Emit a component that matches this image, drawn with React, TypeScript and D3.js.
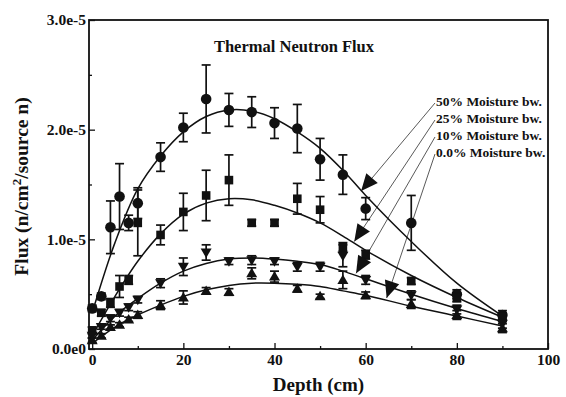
import React, { useEffect, useRef } from 'react'
import * as d3 from 'd3'

// depth (cm) of measured points
const depths = [0, 2, 4, 6, 8, 10, 15, 20, 25, 30, 35, 40, 45, 50, 55, 60, 70, 80, 90]

// flux in units of 1e-5 n/cm2/source n
const m50 = [0.37, 0.48, 1.11, 1.39, 1.15, 1.33, 1.75, 2.02, 2.28, 2.18, 2.16, 2.06, 2.01, 1.73, 1.59, 1.28, 1.15, 0.5, 0.31]
const e50 = [0.03, 0.03, 0.24, 0.3, 0.07, 0.14, 0.13, 0.13, 0.31, 0.15, 0.14, 0.14, 0.22, 0.19, 0.18, 0.1, 0.25, 0.04, 0.04]
const m25 = [0.17, 0.33, 0.42, 0.57, 0.63, 1.15, 1.04, 1.25, 1.4, 1.54, 1.15, 1.15, 1.37, 1.27, 0.93, 0.86, 0.62, 0.47, 0.29]
const e25 = [0.03, 0.03, 0.04, 0.1, 0.04, 0.3, 0.09, 0.17, 0.23, 0.23, 0.03, 0.03, 0.14, 0.12, 0.04, 0.04, 0.03, 0.04, 0.04]
const m10 = [0.12, 0.2, 0.28, 0.33, 0.38, 0.45, 0.6, 0.75, 0.88, 0.8, 0.81, 0.8, 0.75, 0.75, 0.85, 0.63, 0.49, 0.36, 0.23]
const e10 = [0.02, 0.02, 0.03, 0.03, 0.03, 0.03, 0.04, 0.08, 0.07, 0.03, 0.04, 0.03, 0.04, 0.04, 0.1, 0.04, 0.04, 0.04, 0.04]
const m0 = [0.08, 0.12, 0.2, 0.22, 0.27, 0.31, 0.4, 0.47, 0.53, 0.52, 0.69, 0.66, 0.55, 0.48, 0.63, 0.49, 0.41, 0.31, 0.19]
const e0 = [0.02, 0.02, 0.02, 0.02, 0.02, 0.03, 0.04, 0.06, 0.03, 0.03, 0.05, 0.05, 0.03, 0.02, 0.08, 0.03, 0.04, 0.04, 0.04]

// fitted curves
const fitDepths = [0, 5, 10, 15, 20, 25, 30, 35, 40, 45, 50, 55, 60, 70, 80, 90]
const fit50 = [0.33, 0.97, 1.46, 1.76, 1.98, 2.12, 2.18, 2.17, 2.1, 1.98, 1.83, 1.63, 1.4, 0.98, 0.6, 0.3]
const fit25 = [0.12, 0.48, 0.8, 1.05, 1.23, 1.33, 1.37, 1.36, 1.31, 1.24, 1.15, 1.03, 0.9, 0.67, 0.47, 0.29]
const fit10 = [0.08, 0.3, 0.46, 0.6, 0.71, 0.78, 0.82, 0.83, 0.82, 0.8, 0.77, 0.71, 0.64, 0.5, 0.37, 0.25]
const fit0 = [0.05, 0.2, 0.31, 0.4, 0.48, 0.54, 0.58, 0.6, 0.6, 0.59, 0.57, 0.53, 0.49, 0.39, 0.3, 0.21]

const seriesLabels = ['50% Moisture bw.', '25% Moisture bw.', '10% Moisture bw.', '0.0% Moisture bw.']
const markers = ['circle', 'square', 'down', 'up']
// arrow tips on the curves [depth, flux]
const arrowTips = [[59, 1.44], [57.5, 0.98], [57.9, 0.69], [64.6, 0.465]]

const xTicks = [0, 20, 40, 60, 80, 100]
const xMinor = [10, 30, 50, 70, 90]
const yTicks = [0, 1, 2, 3]
const yTickLabels = ['0.0e0', '1.0e-5', '2.0e-5', '3.0e-5']
const yMinor = [0.5, 1.5, 2.5]

const W = 566
const H = 397
const FONT = '"Liberation Serif", "Times New Roman", serif'

const App = () => {
  const ref = useRef(null)

  useEffect(() => {
    const svg = d3.select(ref.current)
    svg.selectAll('*').remove()

    const left = 89
    const right = 548
    const top = 20
    const bottom = 349

    const x = d3.scaleLinear().domain([-0.7, 100]).range([left, right])
    const y = d3.scaleLinear().domain([0, 3]).range([bottom, top])

    const g = svg.append('g').attr('font-family', FONT)

    // frame
    g.append('rect')
      .attr('x', left)
      .attr('y', top)
      .attr('width', right - left)
      .attr('height', bottom - top)
      .attr('fill', 'none')
      .attr('stroke', '#111')
      .attr('stroke-width', 1.8)

    // x axis
    const xa = g.append('g')
      .attr('transform', `translate(0,${bottom})`)
      .call(d3.axisBottom(x).tickValues(xTicks).tickSize(-6).tickPadding(5))
    xa.select('.domain').remove()
    xa.selectAll('line').attr('stroke', '#111').attr('stroke-width', 1.3)
    xa.selectAll('text')
      .attr('font-family', FONT)
      .attr('font-weight', 'bold')
      .attr('font-size', 15.5)
      .attr('fill', '#111')
    const xm = g.append('g')
      .attr('transform', `translate(0,${bottom})`)
      .call(d3.axisBottom(x).tickValues(xMinor).tickSize(-3).tickFormat(() => ''))
    xm.select('.domain').remove()
    xm.selectAll('line').attr('stroke', '#111').attr('stroke-width', 1.3)

    // y axis
    const ya = g.append('g')
      .attr('transform', `translate(${left},0)`)
      .call(d3.axisLeft(y).tickValues(yTicks).tickSize(-6).tickPadding(3).tickFormat((d, i) => yTickLabels[i]))
    ya.select('.domain').remove()
    ya.selectAll('line').attr('stroke', '#111').attr('stroke-width', 1.3)
    ya.selectAll('text')
      .attr('font-family', FONT)
      .attr('font-weight', 'bold')
      .attr('font-size', 15.5)
      .attr('fill', '#111')
    const ym = g.append('g')
      .attr('transform', `translate(${left},0)`)
      .call(d3.axisLeft(y).tickValues(yMinor).tickSize(-3).tickFormat(() => ''))
    ym.select('.domain').remove()
    ym.selectAll('line').attr('stroke', '#111').attr('stroke-width', 1.3)

    // axis titles
    g.append('text')
      .attr('x', (left + right) / 2)
      .attr('y', 391)
      .attr('text-anchor', 'middle')
      .attr('font-weight', 'bold')
      .attr('font-size', 19)
      .attr('fill', '#111')
      .text('Depth (cm)')

    const yt = g.append('text')
      .attr('transform', `translate(28,${(top + bottom) / 2 + 2}) rotate(-90)`)
      .attr('text-anchor', 'middle')
      .attr('font-weight', 'bold')
      .attr('font-size', 19.5)
      .attr('fill', '#111')
    yt.append('tspan').text('Flux (n/cm')
    yt.append('tspan').attr('dy', -7).attr('font-size', 13).text('2')
    yt.append('tspan').attr('dy', 7).text('/source n)')

    // title
    g.append('text')
      .attr('x', 294)
      .attr('y', 52)
      .attr('text-anchor', 'middle')
      .attr('font-weight', 'bold')
      .attr('font-size', 16.5)
      .attr('fill', '#111')
      .text('Thermal Neutron Flux')

    // fitted curves
    const line = d3.line()
      .x(d => x(d[0]))
      .y(d => y(d[1]))
      .curve(d3.curveCatmullRom.alpha(0.5))
    ;[fit50, fit25, fit10, fit0].forEach(fit => {
      g.append('path')
        .datum(fitDepths.map((d, i) => [d, fit[i]]))
        .attr('d', line)
        .attr('fill', 'none')
        .attr('stroke', '#111')
        .attr('stroke-width', 1.5)
    })

    // error bars and markers
    const series = [[m50, e50], [m25, e25], [m10, e10], [m0, e0]]
    series.forEach(([vals, errs], si) => {
      const pts = depths.map((d, i) => ({ d, v: vals[i], e: errs[i] }))
      const sg = g.append('g').attr('stroke', '#111').attr('fill', '#111')
      const cap = 4.5
      pts.forEach(p => {
        const cx = x(p.d)
        const y1 = y(p.v + p.e)
        const y2 = y(p.v - p.e)
        sg.append('line').attr('x1', cx).attr('x2', cx).attr('y1', y1).attr('y2', y2).attr('stroke-width', 1.7)
        sg.append('line').attr('x1', cx - cap).attr('x2', cx + cap).attr('y1', y1).attr('y2', y1).attr('stroke-width', 1.7)
        sg.append('line').attr('x1', cx - cap).attr('x2', cx + cap).attr('y1', y2).attr('y2', y2).attr('stroke-width', 1.7)
        const cy = y(p.v)
        const m = markers[si]
        if (m === 'circle') {
          sg.append('circle').attr('cx', cx).attr('cy', cy).attr('r', 5.3).attr('stroke', 'none')
        } else if (m === 'square') {
          sg.append('rect').attr('x', cx - 4.3).attr('y', cy - 4.3).attr('width', 8.6).attr('height', 8.6).attr('stroke', 'none')
        } else if (m === 'down') {
          sg.append('path').attr('d', `M${cx - 5.5},${cy - 4}L${cx + 5.5},${cy - 4}L${cx},${cy + 5.5}Z`).attr('stroke', 'none')
        } else {
          sg.append('path').attr('d', `M${cx - 5.5},${cy + 4}L${cx + 5.5},${cy + 4}L${cx},${cy - 5.5}Z`).attr('stroke', 'none')
        }
      })
    })

    // labels with leader arrows
    const labelX = 436
    const labelY0 = 106
    const labelStep = 17
    seriesLabels.forEach((lab, i) => {
      const ly = labelY0 + i * labelStep
      g.append('text')
        .attr('x', labelX)
        .attr('y', ly)
        .attr('font-weight', 'bold')
        .attr('font-size', 13.5)
        .attr('fill', '#111')
        .text(lab)
      const sx = labelX - 1
      const sy = ly - 3
      const tx = x(arrowTips[i][0])
      const ty = y(arrowTips[i][1])
      g.append('line')
        .attr('x1', sx).attr('y1', sy).attr('x2', tx).attr('y2', ty)
        .attr('stroke', '#111').attr('stroke-width', 0.7)
      const ang = Math.atan2(ty - sy, tx - sx)
      const len = 17
      const hw = 7.5
      const bx = tx - len * Math.cos(ang)
      const by = ty - len * Math.sin(ang)
      const px = -Math.sin(ang) * hw
      const py = Math.cos(ang) * hw
      g.append('path')
        .attr('d', `M${tx},${ty}L${bx + px},${by + py}L${bx - px},${by - py}Z`)
        .attr('fill', '#111')
    })
  }, [])

  return (
    <svg
      ref={ref}
      width={W}
      height={H}
      style={{ position: 'absolute', left: 0, top: 0, background: '#fff' }}
    />
  )
}

export default App
